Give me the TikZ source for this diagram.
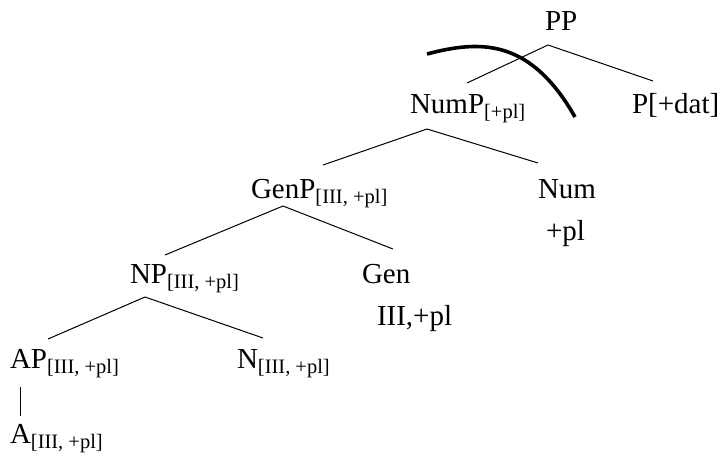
\documentclass[tikz,border=0pt]{standalone}
\usepackage{fontspec}
\setmainfont{Liberation Serif}
\newcommand{\mainsz}{\fontsize{29}{32}\selectfont}
\newcommand{\subf}[1]{{\fontsize{20.5}{22}\selectfont\raisebox{-5pt}{#1}}}
\begin{document}
\begin{tikzpicture}[x=1pt,y=-1pt,
  lbl/.style={anchor=base west,inner sep=0pt,outer sep=0pt,font=\mainsz},
  br/.style={line width=1pt},
  cut/.style={line width=3.6pt}]
\useasboundingbox (0,0) rectangle (728,463);
% labels
\node[lbl] (pp) at (545,30) {PP};
\node[lbl] (nump) at (410,113) {NumP\subf{[+pl]}};
\node[lbl] (pdat) at (632,113) {P[+dat]};
\node[lbl] (genp) at (251,198) {GenP\subf{[III, +pl]}};
\node[lbl] (num) at (538,198) {Num};
\node[lbl] (numpl) at (546,240) {+pl};
\node[lbl] (np) at (130,283) {NP\subf{[III, +pl]}};
\node[lbl] (gen) at (362,283) {Gen};
\node[lbl] (genfeat) at (377,325) {III,+pl};
\node[lbl] (ap) at (10,368) {AP\subf{[III, +pl]}};
\node[lbl] (n) at (237,368) {N\subf{[III, +pl]}};
\node[lbl] (a) at (10,443) {A\subf{[III, +pl]}};
% branch points
\coordinate (ppB) at (548,45);
\coordinate (numpT) at (467,83);
\coordinate (pdatT) at (653,81);
\coordinate (numpB) at (427,129);
\coordinate (genpT) at (323,165);
\coordinate (numT) at (538,163);
\coordinate (genpB) at (283,206);
\coordinate (npT) at (165,255);
\coordinate (genT) at (393,249);
\coordinate (npB) at (145,297);
\coordinate (apT) at (48,339);
\coordinate (nT) at (263,338);
\coordinate (apB) at (20,387);
\coordinate (aT) at (20,416);
% branches
\draw[br] (ppB) -- (numpT);
\draw[br] (ppB) -- (pdatT);
\draw[br] (numpB) -- (genpT);
\draw[br] (numpB) -- (numT);
\draw[br] (genpB) -- (npT);
\draw[br] (genpB) -- (genT);
\draw[br] (npB) -- (apT);
\draw[br] (npB) -- (nT);
\draw[br] (apB) -- (aT);
% cut line
\coordinate (cutS) at (427,54);
\coordinate (cutE) at (575,117);
\draw[cut] (cutS) .. controls (480,40) and (530,38) .. (cutE);
\end{tikzpicture}
\end{document}
